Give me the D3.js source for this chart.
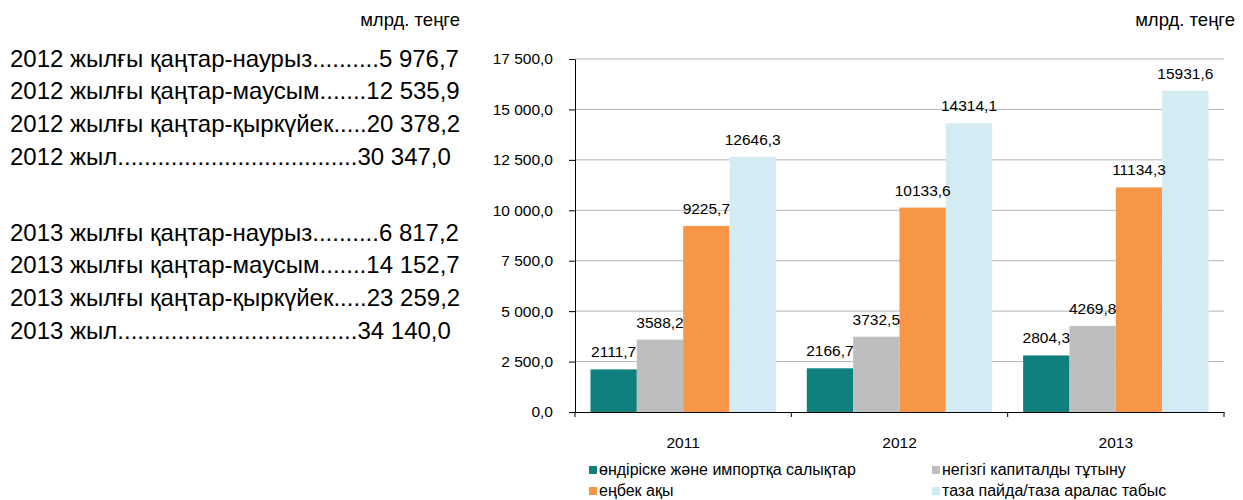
<!DOCTYPE html>
<html><head><meta charset="utf-8">
<script src="https://cdn.jsdelivr.net/npm/d3@7"></script>
<style>body{margin:0;background:#fff;} text{font-family:"Liberation Sans",Arial,sans-serif;fill:#000;}</style>
</head><body>
<svg id="c" width="1243" height="500"></svg>
<script>
const categories = ["2011", "2012", "2013"];
const seriesNames = ["өндіріске және импортқа салықтар", "негізгі капиталды тұтыну", "еңбек ақы", "таза пайда/таза аралас табыс"];
const taxes = [2111.7, 2166.7, 2804.3];
const capital = [3588.2, 3732.5, 4269.8];
const wages = [9225.7, 10133.6, 11134.3];
const profit = [12646.3, 14314.1, 15931.6];
const yTicks = [0, 2500, 5000, 7500, 10000, 12500, 15000, 17500];
const unitLabel = "млрд. теңге";
const sideLines2012 = ["2012 жылғы қаңтар-наурыз..........5 976,7", "2012 жылғы қаңтар-маусым.......12 535,9", "2012 жылғы қаңтар-қыркүйек.....20 378,2", "2012 жыл....................................30 347,0"];
const sideLines2013 = ["2013 жылғы қаңтар-наурыз..........6 817,2", "2013 жылғы қаңтар-маусым.......14 152,7", "2013 жылғы қаңтар-қыркүйек.....23 259,2", "2013 жыл....................................34 140,0"];

const seriesValues = [taxes, capital, wages, profit];
const colors = ["#0F807E", "#BEBEBE", "#F79646", "#D3ECF3"];

const svg = d3.select("#c");
const loc = d3.formatLocale({decimal: ",", thousands: " ", grouping: [3], currency: ["", ""]});
const tickFmt = loc.format(",.1f");
const valFmt = loc.format(".1f");

const L = 575, R = 1224, T = 59, B = 412;
const x0 = d3.scaleBand().domain(categories).range([L, R]).padding(0);
const pad = x0.step() * 0.0715;
const x1 = d3.scaleBand().domain(d3.range(seriesValues.length)).range([pad, x0.bandwidth() - pad]).padding(0);
const y = d3.scaleLinear().domain([0, 17500]).range([B, T]);

// gridlines
svg.append("g").selectAll("line").data(yTicks.filter(d => d > 0)).join("line")
  .attr("x1", L).attr("x2", R).attr("y1", d => y(d)).attr("y2", d => y(d))
  .attr("stroke", "#B4B4B4").attr("stroke-width", 1);

// bars
const data = [];
categories.forEach((c, i) => seriesValues.forEach((s, j) => data.push({c, j, v: s[i]})));
svg.append("g").selectAll("rect").data(data).join("rect")
  .attr("x", d => x0(d.c) + x1(d.j)).attr("width", x1.bandwidth())
  .attr("y", d => y(d.v)).attr("height", d => y(0) - y(d.v))
  .attr("fill", d => colors[d.j]);

// labels
svg.append("g").selectAll("text").data(data).join("text")
  .attr("x", d => x0(d.c) + x1(d.j) + x1.bandwidth() / 2)
  .attr("y", d => y(d.v) - 12)
  .attr("text-anchor", "middle").style("font-size", "15.5px")
  .text(d => valFmt(d.v));

// y axis
const ya = svg.append("g").attr("transform", `translate(${L},0)`)
  .call(d3.axisLeft(y).tickValues(yTicks).tickFormat(tickFmt).tickSizeInner(6).tickSizeOuter(0).tickPadding(16));
ya.selectAll("text").style("font-size", "15.5px").attr("fill", "#000").style("font-family", "Liberation Sans, Arial");
ya.select(".domain").attr("stroke", "#000");
ya.selectAll(".tick line").attr("stroke", "#000");

// x axis
const xa = svg.append("g").attr("transform", `translate(0,${B})`)
  .call(d3.axisBottom(x0).tickSize(0).tickPadding(25));
xa.selectAll("text").style("font-size", "15.5px").attr("fill", "#000").style("font-family", "Liberation Sans, Arial");
xa.select(".domain").attr("stroke", "#000");
const bounds = categories.map(c => x0(c)).concat([R]);
xa.append("g").selectAll("line").data(bounds).join("line")
  .attr("x1", d => d).attr("x2", d => d).attr("y1", 0).attr("y2", 5).attr("stroke", "#000");

// legend
const legPos = [[589, 466], [932, 466], [589, 487], [932, 487]];
const leg = svg.append("g").selectAll("g").data(seriesNames).join("g")
  .attr("transform", (d, i) => `translate(${legPos[i][0]},${legPos[i][1]})`);
leg.append("rect").attr("width", 8).attr("height", 8).attr("fill", (d, i) => colors[i]);
leg.append("text").attr("x", 10).attr("y", 8.5).style("font-size", "16px").text(d => d);

// unit labels
svg.append("text").attr("x", 460).attr("y", 26).attr("text-anchor", "end").style("font-size", "18.5px").text(unitLabel);
svg.append("text").attr("x", 1235).attr("y", 26).attr("text-anchor", "end").style("font-size", "18.5px").text(unitLabel);

// side text
svg.append("g").selectAll("text").data(sideLines2012).join("text")
  .attr("x", 10).attr("y", (d, i) => 66.5 + i * 32.7).style("font-size", "24px").text(d => d);
svg.append("g").selectAll("text").data(sideLines2013).join("text")
  .attr("x", 10).attr("y", (d, i) => 240.5 + i * 32.7).style("font-size", "24px").text(d => d);
</script>
</body></html>
